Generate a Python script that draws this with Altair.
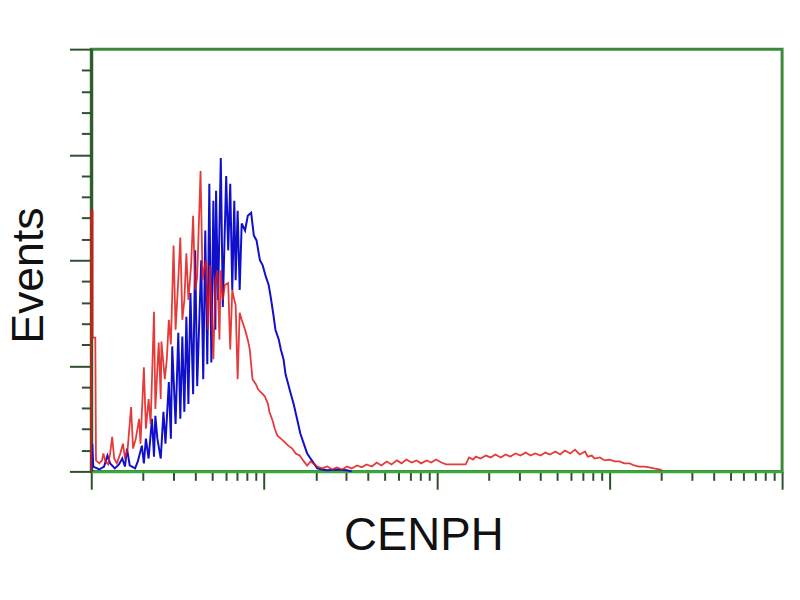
import altair as alt
import pandas as pd
import numpy as np

# Log-amplified channel (0-1024 = 4 decades) and event counts
blue_ch = [0, 1.5, 3, 12, 19, 24, 28, 35, 41, 46, 50, 53, 57, 65, 69, 75, 78, 81, 85, 90,
           93, 95, 98, 103, 107, 110, 115, 118, 120, 125, 129, 132, 135, 138, 141, 144, 147, 151, 154, 157,
           163, 166, 169, 172, 175, 178, 181, 184, 185, 188, 192, 195, 200, 203, 206, 209, 212, 214, 217, 220,
           223, 228, 232, 237, 241, 245, 250, 254, 259, 263, 266, 270, 273, 278, 281, 285, 288, 292, 295, 300,
           306, 310, 316, 320, 325, 331, 335, 342, 350, 364, 379, 386]
blue_ev = [0.5, 13.1, 2.3, 0.9, 2.3, 7.5, 3.8, 1.4, 3.3, 6.1, 2.3, 10.8, 2.8, 1.4, 4.7, 12.2, 3.8, 15.5, 6.1, 24.9,
           7.0, 26.3, 15.5, 6.1, 28.2, 13.1, 42.3, 15.5, 59.2, 22.5, 65.7, 24.9, 63.9, 28.2, 73.2, 31.9, 84.5, 36.6, 104.7, 40.4,
           100.0, 43.7, 114.1, 50.7, 136.2, 51.6, 128.2, 67.1, 132.9, 81.2, 148.4, 77.9, 139.9, 104.7, 136.2, 85.9, 128.2, 90.6, 123.5, 85.9,
           117.4, 114.1, 121.1, 122.5, 111.7, 109.4, 100.0, 97.7, 92.0, 88.3, 82.6, 74.2, 67.1, 62.4, 57.7, 53.1, 46.0, 41.3, 37.6, 31.9,
           23.5, 17.8, 12.2, 8.5, 6.1, 3.3, 1.4, 0.9, 0.5, 0.9, 0.5, 0.0]

red_ch = [0, 0, 2, 2, 6, 7, 12, 16, 18, 21, 25, 28, 31, 34, 38, 43, 47, 50, 54, 59,
          62, 66, 71, 73, 78, 81, 85, 88, 93, 95, 100, 103, 104, 109, 112, 115, 118, 122, 125, 129,
          132, 135, 138, 141, 144, 148, 151, 154, 157, 162, 165, 167, 170, 173, 176, 181, 184, 187, 190, 192,
          195, 198, 203, 206, 209, 212, 214, 217, 220, 223, 228, 232, 235, 239, 244, 247, 251, 257, 262, 264,
          269, 272, 276, 281, 286, 292, 298, 303, 309, 314, 320, 325, 331, 335,
          342, 350, 357, 364, 372, 379, 386, 394, 401, 408, 416, 423, 430, 438, 445, 453, 460, 467, 475, 482,
          489, 497, 504, 511, 519, 526, 533, 541, 548, 555, 560, 566, 570, 577, 585, 592, 599, 607, 614, 621,
          629, 636, 644, 651, 658, 666, 673, 680, 688, 695, 702, 710, 717, 724, 732, 736, 742, 746, 754, 761,
          768, 776, 783, 790, 798, 805, 812, 820, 827, 834, 842, 846]
red_ev = [0, 123.5, 123.5, 63.4, 63.4, 5.2, 3.8, 5.2, 8.5, 4.7, 3.3, 8.5, 16.4, 6.1, 3.8, 8.5, 13.1, 6.1, 10.8, 30.5,
          10.8, 15.5, 24.9, 13.1, 49.3, 20.2, 34.3, 22.5, 75.6, 29.6, 61.0, 34.3, 61.5, 43.7, 53.1, 71.8, 60.1, 107.0, 67.1, 90.6,
          110.8, 71.8, 81.2, 103.3, 81.2, 97.7, 121.1, 85.9, 92.0, 142.3, 90.6, 95.3, 100.0, 67.1, 97.7, 53.1, 90.6, 95.3, 62.4, 95.3,
          81.2, 88.3, 89.2, 57.7, 85.9, 81.2, 78.9, 43.7, 75.1, 71.8, 67.1, 62.4, 57.7, 43.7, 41.3, 39.0, 37.6, 35.7, 31.9, 28.2,
          23.9, 20.2, 16.9, 15.5, 14.1, 12.2, 10.8, 8.5, 7.5, 5.2, 2.8, 4.7, 3.3, 2.3,
          1.4, 2.3, 0.9, 1.9, 0.9, 2.3, 1.4, 2.8, 1.9, 3.3, 2.3, 4.2, 2.8, 4.7, 3.3, 5.2, 3.8, 5.6, 4.2, 5.2,
          3.8, 5.2, 4.2, 5.6, 4.2, 3.3, 3.3, 3.3, 3.3, 3.3, 6.6, 5.6, 7.0, 6.1, 7.5, 6.6, 8.0, 6.6, 8.0, 7.0,
          8.5, 7.5, 8.9, 7.5, 8.5, 7.5, 8.9, 8.0, 9.4, 8.0, 9.9, 8.5, 10.3, 8.0, 9.4, 7.0, 7.5, 6.1, 6.6, 5.2,
          5.6, 4.7, 4.7, 3.8, 3.8, 2.8, 2.3, 2.3, 1.9, 1.4, 0.9, 0.5]

# Axis ticks: 4 log decades over 1024 channels, counts 0-200
x_major = [0, 256, 512, 768, 1024]
x_minor_mult = [2, 3, 4, 5, 6, 7, 8, 9]
y_major = [0, 50, 100, 150, 200]
y_ticks = list(range(0, 201, 10))

x_ticks = list(x_major)
for dec in range(4):
    for m in x_minor_mult:
        x_ticks.append(round(256 * dec + 256 * float(np.log10(m)), 3))
x_ticks = sorted(x_ticks)

blue_df = pd.DataFrame({"ch": blue_ch, "ev": blue_ev})
red_df = pd.DataFrame({"ch": red_ch, "ev": red_ev})

tick_dark = "#2f4f2f"

x_enc = alt.X(
    "ch:Q",
    scale=alt.Scale(domain=[0, 1024], nice=False, zero=False),
    axis=alt.Axis(
        values=x_ticks, tickCount=200, labels=False, grid=False,
        tickSize={"condition": {"test": "indexof([0,256,512,768,1024], datum.value) >= 0", "value": 18}, "value": 9},
        tickColor=tick_dark, tickWidth=2,
        domainColor="#3aa83a", domainWidth=3,
        title="CENPH", titleFont="Liberation Sans", titleFontSize=46, titleFontWeight="normal",
        titleColor="#111111", titleX=335, titleY=79, titleAlign="center", titleBaseline="alphabetic",
    ),
)
y_enc = alt.Y(
    "ev:Q",
    scale=alt.Scale(domain=[0, 200], nice=False),
    axis=alt.Axis(
        values=y_ticks, tickCount=200, labels=False, grid=False,
        tickSize={"condition": {"test": "datum.value % 50 === 0", "value": 22}, "value": 10},
        tickColor=tick_dark, tickWidth=2,
        domainColor="#2f5a2f", domainWidth=3,
        title="Events", titleFont="Liberation Sans", titleFontSize=45, titleFontWeight="normal",
        titleColor="#111111", titleX=-49, titleY=228, titleAngle=270, titleAlign="center",
        titleBaseline="alphabetic",
    ),
)

blue = alt.Chart(blue_df).mark_line(color="#1010cc", strokeWidth=2).encode(x=x_enc, y=y_enc)
red = alt.Chart(red_df).mark_line(color="#e01818", strokeWidth=1.8, opacity=0.85).encode(x="ch:Q", y="ev:Q")

chart = (
    alt.layer(blue, red)
    .properties(
        width=697, height=426,
        autosize=alt.AutoSizeParams(type="none"),
        padding={"left": 84, "top": 39, "right": 10, "bottom": 100},
        background="white",
    )
    .configure_view(stroke="#3a8a3a", strokeWidth=3)
)

chart.save("out.html", embed_options={"renderer": "svg", "actions": False})
